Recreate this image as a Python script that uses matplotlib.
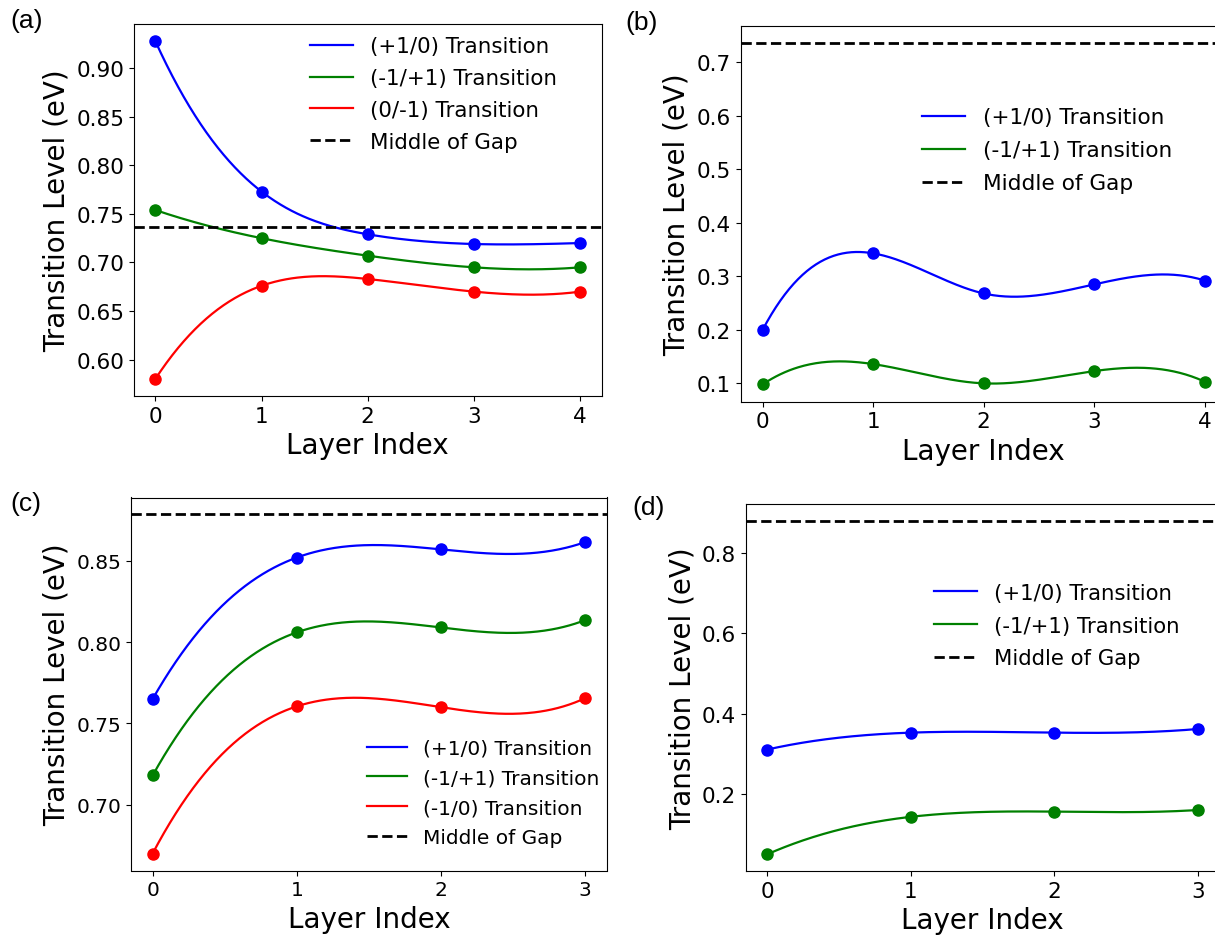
import numpy as np
import matplotlib
matplotlib.use("Agg")
import matplotlib.pyplot as plt

# ---- data -------------------------------------------------------------
layers_a = [0, 1, 2, 3, 4]
a_plus1_0 = [0.928, 0.773, 0.729, 0.719, 0.720]
a_m1_p1 = [0.754, 0.725, 0.707, 0.695, 0.695]
a_0_m1 = [0.580, 0.676, 0.683, 0.670, 0.670]
a_midgap = 0.736

layers_b = [0, 1, 2, 3, 4]
b_plus1_0 = [0.200, 0.343, 0.268, 0.285, 0.292]
b_m1_p1 = [0.098, 0.136, 0.100, 0.123, 0.103]
b_midgap = 0.736

layers_c = [0, 1, 2, 3]
c_plus1_0 = [0.765, 0.852, 0.857, 0.8615]
c_m1_p1 = [0.718, 0.806, 0.809, 0.8135]
c_m1_0 = [0.670, 0.7605, 0.760, 0.7655]
c_midgap = 0.8785

layers_d = [0, 1, 2, 3]
d_plus1_0 = [0.311, 0.353, 0.353, 0.362]
d_m1_p1 = [0.051, 0.144, 0.157, 0.161]
d_midgap = 0.879


def smooth(x, y, num=300):
    """Not-a-knot cubic spline through (x, y)."""
    x = np.asarray(x, float)
    y = np.asarray(y, float)
    n = len(x)
    h = np.diff(x)
    A = np.zeros((n, n))
    r = np.zeros(n)
    for i in range(1, n - 1):
        A[i, i - 1] = h[i - 1]
        A[i, i] = 2 * (h[i - 1] + h[i])
        A[i, i + 1] = h[i]
        r[i] = 6 * ((y[i + 1] - y[i]) / h[i] - (y[i] - y[i - 1]) / h[i - 1])
    # third derivative continuous at the second and second-to-last knots
    A[0, 0], A[0, 1], A[0, 2] = h[1], -(h[0] + h[1]), h[0]
    A[-1, -3], A[-1, -2], A[-1, -1] = h[-1], -(h[-2] + h[-1]), h[-2]
    M = np.linalg.solve(A, r)
    xs = np.linspace(x[0], x[-1], num)
    idx = np.clip(np.searchsorted(x, xs, side="right") - 1, 0, n - 2)
    hi = h[idx]
    t0 = x[idx + 1] - xs
    t1 = xs - x[idx]
    ys = (M[idx] * t0 ** 3 / (6 * hi) + M[idx + 1] * t1 ** 3 / (6 * hi)
          + (y[idx] / hi - M[idx] * hi / 6) * t0
          + (y[idx + 1] / hi - M[idx + 1] * hi / 6) * t1)
    return xs, ys


W, H = 1215, 937
fig = plt.figure(figsize=(W / 100, H / 100), dpi=100)


def add_ax(left, right, top, bottom):
    return fig.add_axes([left / W, 1 - bottom / H, (right - left) / W, (bottom - top) / H])


def panel(ax, x, series, midgap, ticks_fs, leg_fs, leg_anchor, leg_spacing):
    for y, color, label in series:
        xs, ys = smooth(x, y)
        ax.plot(xs, ys, color=color, lw=1.6, label=label)
        ax.plot(x, y, "o", color=color, ms=8)
    ax.axhline(midgap, color="black", ls="--", lw=2, label="Middle of Gap")
    ax.set_xticks(x)
    ax.tick_params(labelsize=ticks_fs)
    ax.set_xlabel("Layer Index", fontsize=20)
    ax.set_ylabel("Transition Level (eV)", fontsize=20)
    ax.legend(loc="upper left", bbox_to_anchor=leg_anchor, frameon=False,
              fontsize=leg_fs, borderaxespad=0, borderpad=0,
              labelspacing=leg_spacing)


ax_a = add_ax(134, 601.5, 25, 397)
panel(ax_a, layers_a,
      [(a_plus1_0, "blue", "(+1/0) Transition"),
       (a_m1_p1, "green", "(-1/+1) Transition"),
       (a_0_m1, "red", "(0/-1) Transition")],
      a_midgap, 15.5, 15.4, (0.376, 0.967), 0.55)
ax_a.yaxis.set_major_formatter(matplotlib.ticker.FormatStrFormatter("%.2f"))

ax_b = add_ax(740.5, 1227, 27, 402.5)
panel(ax_b, layers_b,
      [(b_plus1_0, "blue", "(+1/0) Transition"),
       (b_m1_p1, "green", "(-1/+1) Transition")],
      b_midgap, 15.5, 15.6, (0.373, 0.784), 0.6)

ax_c = add_ax(131, 606.7, 498.5, 871.5)
panel(ax_c, layers_c,
      [(c_plus1_0, "blue", "(+1/0) Transition"),
       (c_m1_p1, "green", "(-1/+1) Transition"),
       (c_m1_0, "red", "(-1/0) Transition")],
      c_midgap, 14.5, 14.5, (0.496, 0.353), 0.53)
ax_c.set_yticks([0.70, 0.75, 0.80, 0.85])
ax_c.yaxis.set_major_formatter(matplotlib.ticker.FormatStrFormatter("%.2f"))

ax_d = add_ax(745.7, 1219.2, 505, 872)
panel(ax_d, layers_d,
      [(d_plus1_0, "blue", "(+1/0) Transition"),
       (d_m1_p1, "green", "(-1/+1) Transition")],
      d_midgap, 15.5, 15.3, (0.398, 0.785), 0.6)
ax_d.set_yticks([0.2, 0.4, 0.6, 0.8])

# panel letters
for txt, px, py in [("(a)", 10, 21), ("(b)", 625, 23), ("(c)", 10, 504), ("(d)", 632, 508)]:
    fig.text(px / W, 1 - py / H, txt, fontsize=19, family="Liberation Sans",
             ha="left", va="center")

fig.savefig("out.png", dpi=100)
